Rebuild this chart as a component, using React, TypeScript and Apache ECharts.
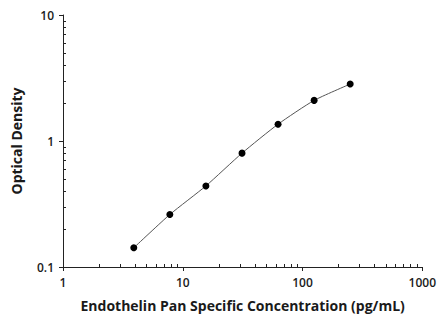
import React, { useEffect, useRef } from "react";
import * as echarts from "echarts";

const concentrations = [3.9, 7.8, 15.6, 31.25, 62.5, 125, 250];
const opticalDensity = [0.142, 0.261, 0.44, 0.801, 1.36, 2.1, 2.83];
const xMinorTicks = [2, 3, 4, 5, 6, 7, 8, 9, 20, 30, 40, 50, 60, 70, 80, 90, 200, 300, 400, 500, 600, 700, 800, 900];
const yMinorTicks = [0.2, 0.3, 0.4, 0.5, 0.6, 0.7, 0.8, 0.9, 2, 3, 4, 5, 6, 7, 8, 9];
const xTitle = "Endothelin Pan Specific Concentration (pg/mL)";
const yTitle = "Optical Density";

const FONT = "Open Sans";
const AXIS_COLOR = "#222";

export default function App() {
  const ref = useRef<HTMLDivElement>(null);
  useEffect(() => {
    if (!ref.current) return;
    const chart = echarts.init(ref.current, undefined, { renderer: "svg" });
    const labelStyle = {
      color: "#1a1a1a",
      fontFamily: FONT,
      fontSize: 12,
      fontWeight: 600,
      formatter: (v: number) => String(v),
    };
    const minorAxisBase = {
      type: "log" as const,
      logBase: 10,
      axisLine: { show: false },
      axisLabel: { show: false },
      splitLine: { show: false },
    };
    const nameStyle = { color: "#1a1a1a", fontFamily: FONT, fontSize: 14, fontWeight: 700 };
    chart.setOption({
      animation: false,
      backgroundColor: "#fff",
      grid: { left: 63, right: 16, top: 15, bottom: 52 },
      xAxis: [
        {
          type: "log",
          logBase: 10,
          min: 1,
          max: 1000,
          interval: 1,
          name: xTitle,
          nameLocation: "middle",
          nameGap: 31,
          nameTextStyle: nameStyle,
          axisLine: { show: true, lineStyle: { color: AXIS_COLOR, width: 1 } },
          axisTick: { show: true, length: 4, lineStyle: { color: AXIS_COLOR } },
          axisLabel: { ...labelStyle, margin: 9 },
          splitLine: { show: false },
        },
        {
          ...minorAxisBase,
          min: 1,
          max: 1000,
          position: "bottom",
          axisTick: { show: true, inside: true, length: 3, customValues: xMinorTicks, lineStyle: { color: AXIS_COLOR } },
        },
      ],
      yAxis: [
        {
          type: "log",
          logBase: 10,
          min: 0.1,
          max: 10,
          interval: 1,
          name: yTitle,
          nameLocation: "middle",
          nameGap: 40,
          nameTextStyle: nameStyle,
          axisLine: { show: true, lineStyle: { color: AXIS_COLOR, width: 1 } },
          axisTick: { show: true, length: 4, lineStyle: { color: AXIS_COLOR } },
          axisLabel: { ...labelStyle, margin: 9 },
          splitLine: { show: false },
        },
        {
          ...minorAxisBase,
          min: 0.1,
          max: 10,
          position: "left",
          axisTick: { show: true, inside: true, length: 3, customValues: yMinorTicks, lineStyle: { color: AXIS_COLOR } },
        },
      ],
      series: [
        {
          type: "line",
          data: concentrations.map((c, i) => [c, opticalDensity[i]]),
          smooth: 0.2,
          symbol: "circle",
          symbolSize: 7,
          itemStyle: { color: "#000" },
          lineStyle: { color: "#555", width: 1 },
        },
      ],
    });
    return () => chart.dispose();
  }, []);
  return <div ref={ref} style={{ width: 439, height: 319, position: "absolute", left: 0, top: 0 }} />;
}
